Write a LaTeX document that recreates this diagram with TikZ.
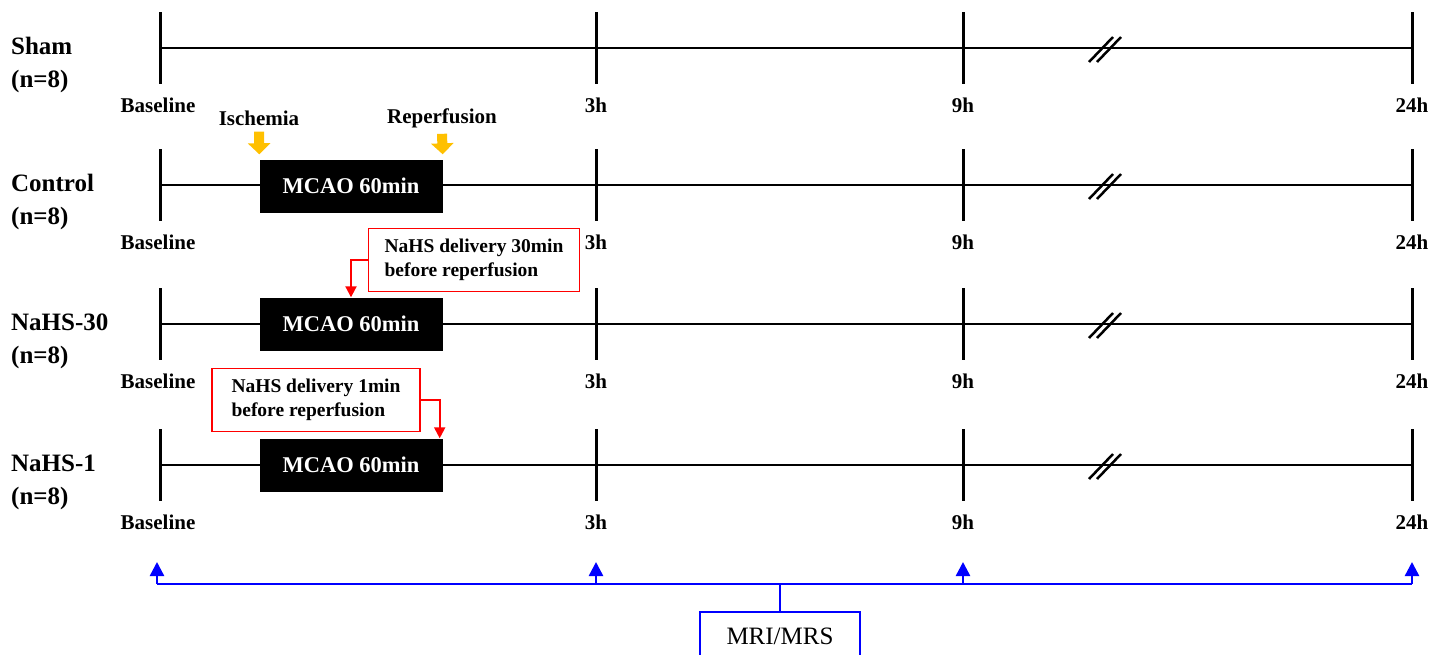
\documentclass[tikz,border=0pt]{standalone}
\usepackage{fontspec}
\setmainfont{Liberation Serif}
\usetikzlibrary{arrows.meta, positioning}
\definecolor{naranja}{RGB}{255,192,0}
\tikzstyle{grupo} = [font=\fontsize{25}{33}\selectfont\bfseries, align=left, anchor=west, inner sep=0pt]
\tikzstyle{tiempo} = [font=\fontsize{21}{24}\selectfont\bfseries, inner sep=0pt]
\tikzstyle{eje} = [line width=2.5pt]
\tikzstyle{marca} = [line width=3pt]
\tikzstyle{mcao} = [fill=black, text=white, minimum width=183pt, minimum height=53pt, font=\fontsize{22.5}{27}\selectfont\bfseries]
\tikzstyle{nota} = [draw=red, line width=1.5pt, fill=white, align=left, inner xsep=16pt, minimum height=63pt, font=\fontsize{19.5}{24}\selectfont\bfseries]
\tikzstyle{flecharoja} = [draw=red, line width=2pt, -{Triangle[width=11pt, length=11pt]}]
\tikzstyle{evento} = [draw=naranja, line width=10pt, -{Triangle[width=22pt, length=11pt]}]
\tikzstyle{azul} = [draw=blue, line width=2.5pt]
\tikzstyle{medida} = [azul, -{Triangle[width=14pt, length=14pt]}]
\tikzstyle{mri} = [draw=blue, line width=2pt, minimum width=160pt, minimum height=48pt, font=\fontsize{25}{30}\selectfont]

\begin{document}
\begin{tikzpicture}[x=1pt, y=-1pt]
	\useasboundingbox (0,0) rectangle (1444,654);
	\foreach \y/\n/\g in {48/s/Sham, 185/c/Control, 324/a/NaHS-30, 465/b/NaHS-1}{
		\coordinate (\n0) at (160,\y);
		\coordinate (\n1) at (596,\y);
		\coordinate (\n2) at (963,\y);
		\coordinate (\n3) at (1412,\y);
		\draw[eje] (\n0) -- (\n3);
		\foreach \i in {0,...,3} \draw[marca] ([yshift=36pt]\n\i) -- ([yshift=-36pt]\n\i);
		\draw[eje] (1089,\y+14) -- ++(24,-25) (1097,\y+14) -- ++(24,-25);
		\node[grupo] (\n-grupo) at (11,\y+17) {\g\\(n=8)};
		\node[tiempo] (\n-base) at (158,\y+57) {Baseline};
		\node[tiempo] (\n-3h) at (596,\y+57) {3h};
		\node[tiempo] (\n-9h) at (963,\y+57) {9h};
		\node[tiempo] (\n-24h) at (1412,\y+57) {24h};
	}
	\node[mcao] (mcao-c) at (351,186) {MCAO 60min};
	\node[mcao] (mcao-a) at (351,324) {MCAO 60min};
	\node[mcao] (mcao-b) at (351,465) {MCAO 60min};
	\node[tiempo] (isq) at (259,118) {Ischemia};
	\node[tiempo] (rep) at (442,118) {Reperfusion};
	\draw[evento] ([yshift=-6pt]isq.south) -- ([yshift=5pt]mcao-c.north west);
	\draw[evento] ([yshift=-6pt]rep.south) -- ([yshift=5pt]mcao-c.north east);
	\node[nota] (nota30) at (474,260) {NaHS delivery 30min\\before reperfusion};
	\draw[flecharoja] (nota30.west) -| (mcao-a.north);
	\node[nota, minimum width=208pt] (nota1) at (316,400) {NaHS delivery 1min\\before reperfusion};
	\draw[flecharoja] (nota1.east) -| ([xshift=-3pt]mcao-b.north east);
	\foreach \x [count=\i from 0] in {157,596,963,1412}{
		\coordinate (m\i) at (\x,584);
		\draw[medida] (m\i) -- ++(0,-22);
	}
	\draw[azul] (m0) -- (m3);
	\node[mri] (resonancia) at (780,636) {MRI/MRS};
	\draw[azul] (resonancia.north) -- (resonancia.north |- m0);
\end{tikzpicture}
\end{document}
